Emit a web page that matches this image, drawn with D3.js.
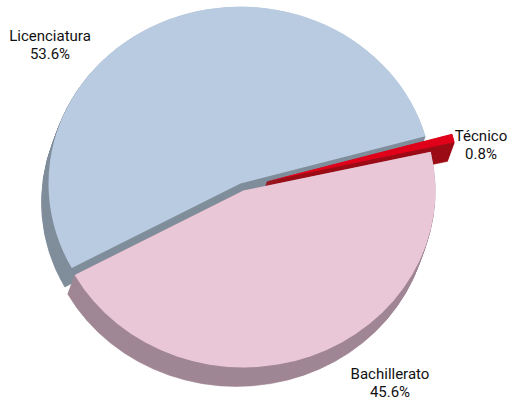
<!DOCTYPE html>
<html>
<head>
<meta charset="utf-8">
<script src="https://cdn.jsdelivr.net/npm/d3@7"></script>
<style>
  html, body { margin: 0; padding: 0; background: #fff; }
  svg { display: block; }
  .label { font-family: Roboto, "Noto Sans", sans-serif; font-size: 15px; fill: #111; }
</style>
</head>
<body>
<div id="chart"></div>
<script>
const categories = ['Licenciatura', 'Técnico', 'Bachillerato'];
const shares = [53.6, 0.8, 45.6];
const shareLabels = ['53.6%', '0.8%', '45.6%'];

const width = 510;
const height = 400;
const center = { x: 242, y: 187 };
const rx = 192;
const ry = 177;
const depth = { x: -7, y: 19 };
const startAngle = -118.5 * Math.PI / 180;

const topColors = ['#b9cbe0', '#e1001a', '#eac7d7'];
const sideColors = ['#808e9b', '#9b0d16', '#a08795'];
const explode = [4, 26, 4];
// label anchors (centre of first line baseline)
const labelPos = [[50, 41], [481, 141], [390, 379]];

const svg = d3.select('#chart').append('svg')
  .attr('width', width)
  .attr('height', height);

const pie = d3.pie().sort(null).value((d) => d.value)
  .startAngle(startAngle)
  .endAngle(startAngle + 2 * Math.PI);

const data = categories.map((name, i) => ({ name, value: shares[i], label: shareLabels[i], index: i }));
const arcs = pie(data);

const arc = d3.arc().innerRadius(0).outerRadius(rx);
const k = ry / rx;

function offsetOf(d) {
  const mid = (d.startAngle + d.endAngle) / 2;
  const e = explode[d.data.index];
  return { x: e * Math.sin(mid), y: -e * Math.cos(mid) * k };
}

// side walls: stacked copies, back slices first, pink last
const sideOrder = [0, 1, 2];
const sides = svg.append('g').attr('class', 'sides');
const steps = 24;
sideOrder.forEach((idx) => {
  const d = arcs[idx];
  const o = offsetOf(d);
  for (let s = steps; s >= 1; s--) {
    const t = s / steps;
    sides.append('path')
      .attr('d', arc(d))
      .attr('fill', sideColors[idx])
      .attr('stroke', sideColors[idx])
      .attr('stroke-width', 0.6)
      .attr('transform', `translate(${center.x + o.x + depth.x * t},${center.y + o.y + depth.y * t}) scale(1,${k})`);
  }
});

const tops = svg.append('g').attr('class', 'tops');
tops.selectAll('path')
  .data(arcs)
  .join('path')
  .attr('d', arc)
  .attr('fill', (d) => topColors[d.data.index])
  .attr('transform', (d) => {
    const o = offsetOf(d);
    return `translate(${center.x + o.x},${center.y + o.y}) scale(1,${k})`;
  });

const labels = svg.append('g').attr('class', 'labels');
arcs.forEach((d) => {
  const [lx, ly] = labelPos[d.data.index];
  const text = labels.append('text')
    .attr('class', 'label')
    .attr('text-anchor', 'middle')
    .attr('x', lx)
    .attr('y', ly);
  text.append('tspan').attr('x', lx).text(d.data.name);
  text.append('tspan').attr('x', lx).attr('dy', 18).text(d.data.label);
});
</script>
</body>
</html>
